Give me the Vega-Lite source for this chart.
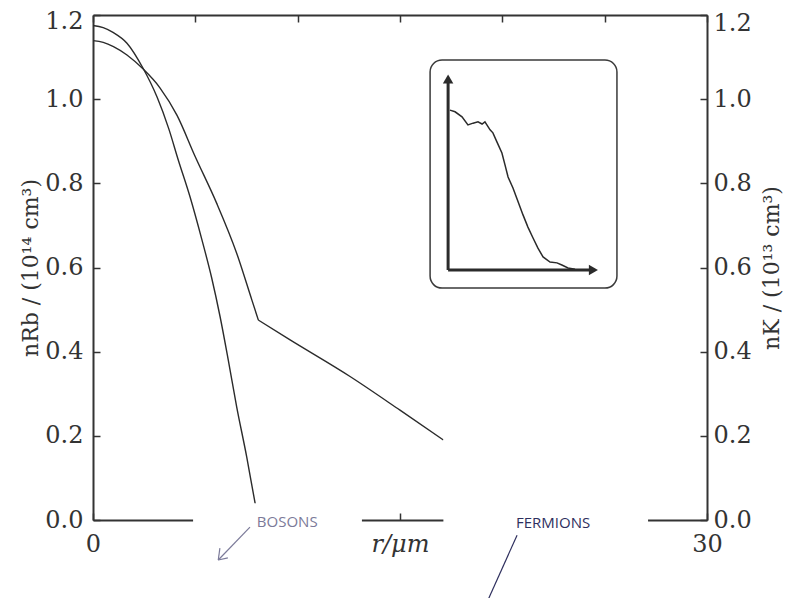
{
  "$schema": "https://vega.github.io/schema/vega-lite/v6.json",
  "width": 614,
  "height": 505,
  "autosize": {"type": "none"},
  "padding": {"left": 93, "top": 15, "right": 81, "bottom": 78},
  "background": "white",
  "datasets": {
    "curves": [
      {"x": 0, "y": 1.175, "s": "b"}, {"x": 0.5, "y": 1.170, "s": "b"}, {"x": 1.0, "y": 1.158, "s": "b"},
      {"x": 1.66, "y": 1.133, "s": "b"}, {"x": 2.44, "y": 1.074, "s": "b"}, {"x": 3.13, "y": 1.005, "s": "b"},
      {"x": 3.7, "y": 0.930, "s": "b"}, {"x": 4.17, "y": 0.855, "s": "b"}, {"x": 4.74, "y": 0.768, "s": "b"},
      {"x": 5.31, "y": 0.668, "s": "b"}, {"x": 5.80, "y": 0.575, "s": "b"}, {"x": 6.21, "y": 0.483, "s": "b"},
      {"x": 6.61, "y": 0.380, "s": "b"}, {"x": 7.02, "y": 0.269, "s": "b"}, {"x": 7.51, "y": 0.150, "s": "b"},
      {"x": 7.92, "y": 0.040, "s": "b"}, {"x": 8.08, "y": 0.0, "s": "b"},
      {"x": 0, "y": 1.139, "s": "f1"}, {"x": 0.5, "y": 1.135, "s": "f1"}, {"x": 1.0, "y": 1.125, "s": "f1"},
      {"x": 1.66, "y": 1.105, "s": "f1"}, {"x": 2.44, "y": 1.072, "s": "f1"}, {"x": 3.27, "y": 1.027, "s": "f1"},
      {"x": 4.10, "y": 0.962, "s": "f1"}, {"x": 4.98, "y": 0.865, "s": "f1"}, {"x": 6.04, "y": 0.753, "s": "f1"},
      {"x": 7.02, "y": 0.634, "s": "f1"}, {"x": 7.76, "y": 0.523, "s": "f1"}, {"x": 8.08, "y": 0.475, "s": "f1"},
      {"x": 8.08, "y": 0.475, "s": "f2"}, {"x": 9.63, "y": 0.428, "s": "f2"}, {"x": 12.56, "y": 0.341, "s": "f2"},
      {"x": 15.0, "y": 0.261, "s": "f2"}, {"x": 17.12, "y": 0.190, "s": "f2"}
    ],
    "insetBox": [{"x": 16.47, "x2": 25.6, "y": 1.093, "y2": 0.551}],
    "insetAxes": [
      {"x": 17.35, "y": 0.594, "x2": 17.35, "y2": 1.04},
      {"x": 17.35, "y": 0.594, "x2": 24.4, "y2": 0.594}
    ],
    "insetHeads": [
      {"x": 17.35, "y": 1.048, "s": "up"},
      {"x": 24.45, "y": 0.594, "s": "right"}
    ],
    "insetCurve": [
      {"x": 17.44, "y": 0.974}, {"x": 17.69, "y": 0.970}, {"x": 18.03, "y": 0.958}, {"x": 18.32, "y": 0.939},
      {"x": 18.57, "y": 0.943}, {"x": 18.81, "y": 0.946}, {"x": 19.01, "y": 0.941}, {"x": 19.15, "y": 0.946},
      {"x": 19.40, "y": 0.927}, {"x": 19.54, "y": 0.920}, {"x": 19.74, "y": 0.898}, {"x": 19.98, "y": 0.872},
      {"x": 20.13, "y": 0.844}, {"x": 20.28, "y": 0.815}, {"x": 20.52, "y": 0.789}, {"x": 20.77, "y": 0.756},
      {"x": 21.01, "y": 0.725}, {"x": 21.25, "y": 0.696}, {"x": 21.50, "y": 0.670}, {"x": 21.74, "y": 0.646},
      {"x": 21.99, "y": 0.625}, {"x": 22.33, "y": 0.613}, {"x": 22.67, "y": 0.611}, {"x": 22.91, "y": 0.606},
      {"x": 23.21, "y": 0.599}, {"x": 23.55, "y": 0.596}
    ],
    "patches": [
      {"x": 4.89, "x2": 13.14, "y": -0.102, "y2": 0.040},
      {"x": 17.12, "x2": 27.12, "y": -0.19, "y2": 0.214}
    ],
    "notes": [
      {"x": 9.49, "y": -0.005, "t": "BOSONS"},
      {"x": 22.48, "y": -0.007, "t": "FERMIONS"}
    ],
    "arrows": [
      {"x": 7.67, "y": -0.017, "x2": 6.12, "y2": -0.095, "g": "b"},
      {"x": 6.12, "y": -0.095, "x2": 6.59, "y2": -0.090, "g": "b"},
      {"x": 6.12, "y": -0.095, "x2": 6.20, "y2": -0.067, "g": "b"},
      {"x": 20.72, "y": -0.036, "x2": 19.30, "y2": -0.19, "g": "f"}
    ]
  },
  "encoding": {
    "x": {"field": "x", "type": "quantitative", "scale": {"domain": [0, 30], "nice": false, "zero": false}, "axis": null},
    "y": {"field": "y", "type": "quantitative", "scale": {"domain": [0, 1.2], "nice": false, "zero": false}, "axis": null}
  },
  "layer": [
    {
      "data": {"name": "curves"},
      "mark": {"type": "line", "color": "#2b2b2b", "strokeWidth": 1.4, "interpolate": "monotone"},
      "encoding": {
        "x": {"field": "x", "type": "quantitative", "scale": {"domain": [0, 30], "nice": false, "zero": false},
          "axis": {"orient": "bottom", "values": [0, 5, 10, 15, 20, 25, 30], "tickSize": -7, "labelPadding": 19, "labelFlush": false,
            "labelExpr": "datum.value == 15 ? 'r/μm' : (datum.value == 0 || datum.value == 30 ? datum.label : '')",
            "labelFontStyle": {"condition": {"test": "datum.value == 15", "value": "italic"}, "value": "normal"},
            "title": null}},
        "y": {"field": "y", "type": "quantitative", "scale": {"domain": [0, 1.2], "nice": false, "zero": false},
          "axis": {"orient": "left", "values": [0, 0.2, 0.4, 0.6, 0.8, 1.0, 1.2], "format": ".1f", "tickSize": -7, "labelPadding": 17,
            "labelOffset": {"condition": {"test": "datum.value > 1.1", "value": 6}, "value": 0},
            "title": "nRb / (10¹⁴ cm³)", "titlePadding": 2}},
        "detail": {"field": "s", "type": "nominal"}
      }
    },
    {
      "data": {"name": "insetBox"},
      "mark": {"type": "rect", "fill": "white", "stroke": "#3a3a3a", "strokeWidth": 1.5, "cornerRadius": 12},
      "encoding": {"x2": {"field": "x2"}, "y2": {"field": "y2"}}
    },
    {
      "data": {"name": "insetAxes"},
      "mark": {"type": "rule", "color": "#2b2b2b", "strokeWidth": 3},
      "encoding": {"x2": {"field": "x2"}, "y2": {"field": "y2"}}
    },
    {
      "data": {"name": "insetHeads"},
      "mark": {"type": "point", "filled": true, "color": "#2b2b2b", "opacity": 1, "size": 110},
      "encoding": {
        "shape": {"field": "s", "type": "nominal", "scale": {"domain": ["up", "right"], "range": ["triangle-up", "triangle-right"]}, "legend": null}
      }
    },
    {
      "data": {"name": "insetCurve"},
      "mark": {"type": "line", "color": "#2b2b2b", "strokeWidth": 1.5},
      "encoding": {}
    },
    {
      "data": {"name": "patches"},
      "mark": {"type": "rect", "fill": "white", "strokeWidth": 0},
      "encoding": {"x2": {"field": "x2"}, "y2": {"field": "y2"}}
    },
    {
      "data": {"name": "notes"},
      "mark": {"type": "text", "font": "Open Sans", "fontSize": 15, "align": "center", "baseline": "middle"},
      "encoding": {
        "text": {"field": "t"},
        "color": {"field": "t", "type": "nominal", "scale": {"domain": ["BOSONS", "FERMIONS"], "range": ["#7b7a99", "#2e2f5e"]}, "legend": null}
      }
    },
    {
      "data": {"name": "arrows"},
      "mark": {"type": "rule", "strokeWidth": 1.2},
      "encoding": {
        "x2": {"field": "x2"}, "y2": {"field": "y2"},
        "color": {"field": "g", "type": "nominal", "scale": {"domain": ["b", "f"], "range": ["#bdb6cc", "#cfa6b4"]}, "legend": null}
      }
    },
    {
      "data": {"name": "insetCurve"},
      "mark": {"type": "point", "opacity": 0},
      "encoding": {
        "x": {"field": "x", "type": "quantitative", "scale": {"domain": [0, 30], "nice": false, "zero": false},
          "axis": {"orient": "top", "values": [0, 5, 10, 15, 20, 25, 30], "tickSize": -7, "labels": false, "title": null}},
        "y": {"field": "y", "type": "quantitative", "scale": {"domain": [0, 1.2], "nice": false, "zero": false},
          "axis": {"orient": "right", "values": [0, 0.2, 0.4, 0.6, 0.8, 1.0, 1.2], "format": ".1f", "tickSize": -7, "labelPadding": 13,
            "labelOffset": {"condition": {"test": "datum.value > 1.1", "value": 8}, "value": 0},
            "title": "nK / (10¹³ cm³)", "titleAngle": 270, "titleBaseline": "top", "titlePadding": 10}}
      }
    }
  ],
  "resolve": {"axis": {"x": "independent", "y": "independent"}},
  "config": {
    "view": {"stroke": null},
    "axis": {
      "domainColor": "#333", "domainWidth": 2, "tickColor": "#333", "tickWidth": 1.5,
      "labelFont": "DejaVu Serif", "labelFontSize": 24, "labelColor": "#333",
      "titleFont": "DejaVu Serif", "titleFontSize": 22, "titleColor": "#333", "titleFontWeight": "normal",
      "grid": false, "zindex": 0
    }
  }
}
